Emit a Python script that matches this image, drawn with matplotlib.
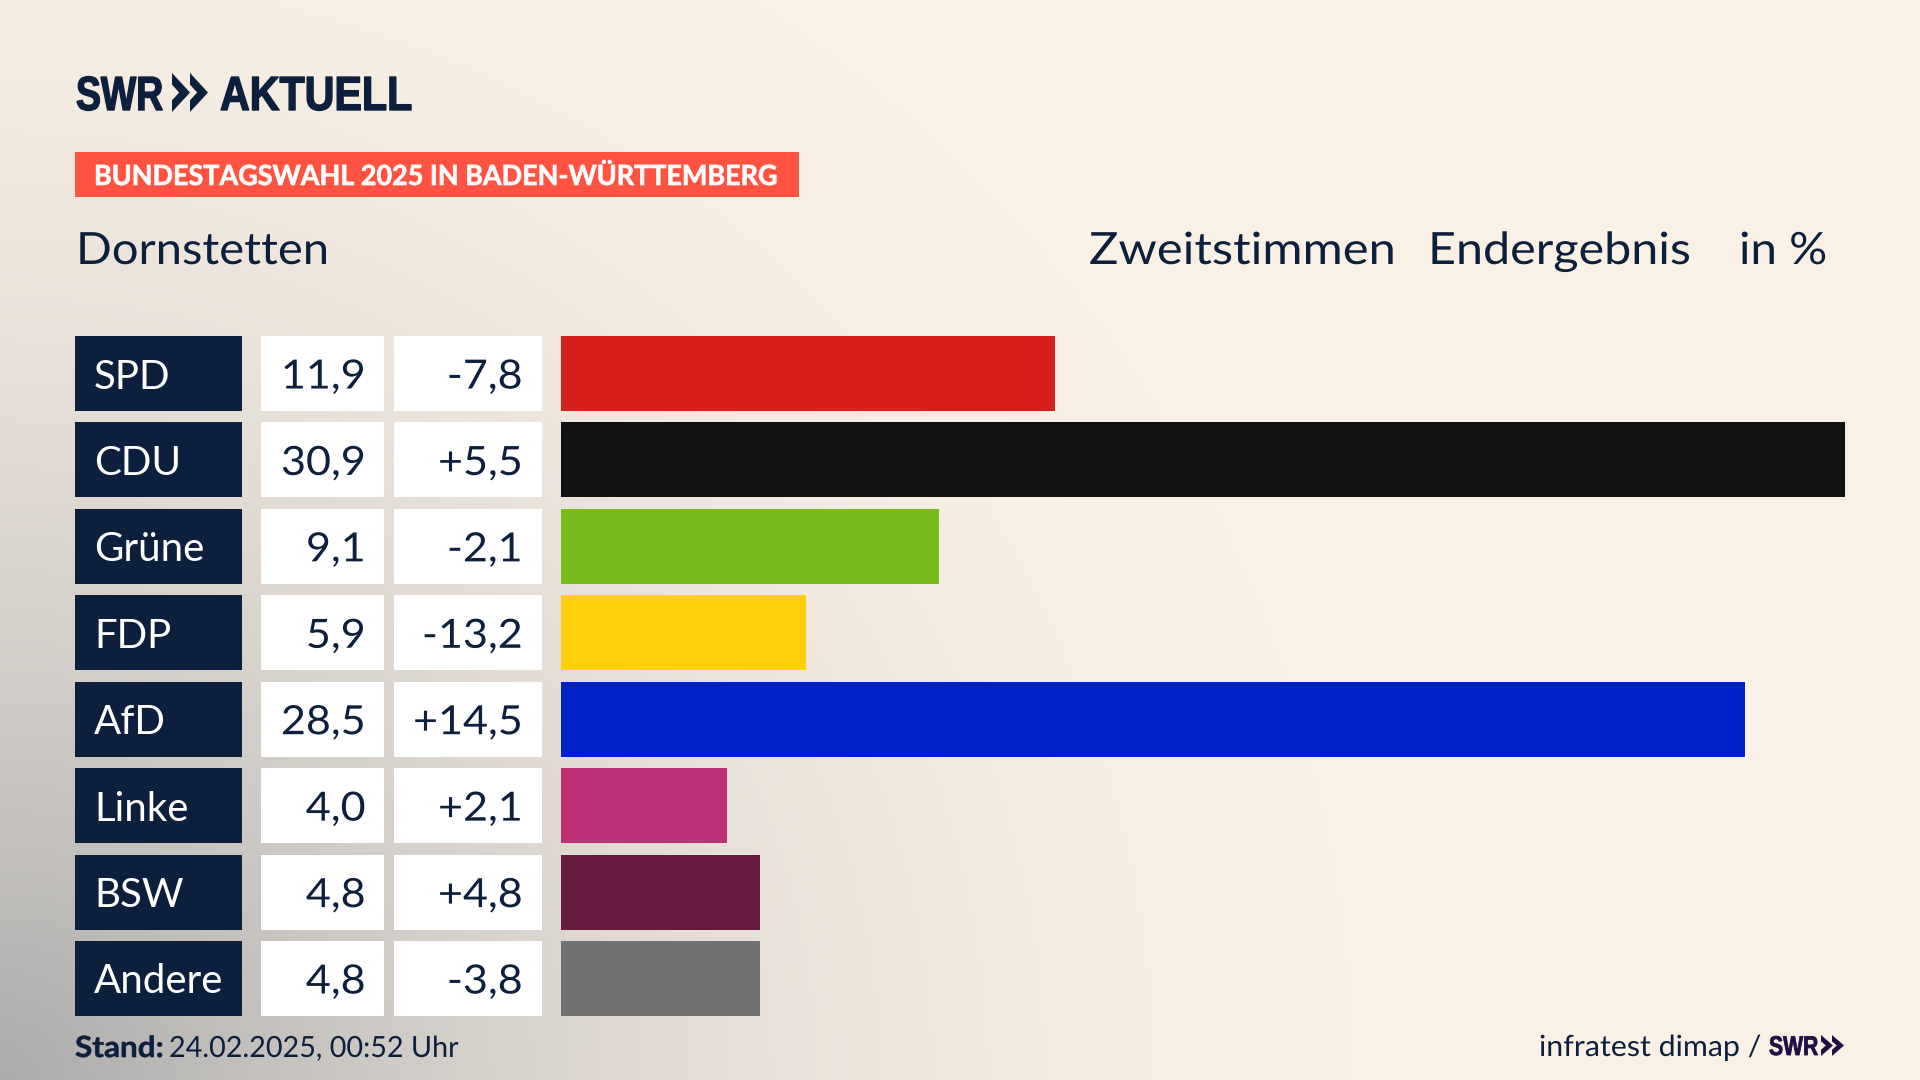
import numpy as np
import matplotlib
matplotlib.use("Agg")
import matplotlib.pyplot as plt
from matplotlib.patches import Polygon, Rectangle
from matplotlib.patheffects import AbstractPathEffect
from matplotlib.transforms import Affine2D

parties = ["SPD", "CDU", "Grüne", "FDP", "AfD", "Linke", "BSW", "Andere"]
shares = [11.9, 30.9, 9.1, 5.9, 28.5, 4.0, 4.8, 4.8]
share_labels = ["11,9", "30,9", "9,1", "5,9", "28,5", "4,0", "4,8", "4,8"]
diff_labels = ["-7,8", "+5,5", "-2,1", "-13,2", "+14,5", "+2,1", "+4,8", "-3,8"]
colors = ["#D71F1D", "#121212", "#78BC1B", "#FFCF09", "#0021C8", "#BD3075", "#661A3F", "#707173"]

W, H = 1920, 1080
NAVY = "#0C1F3D"
FONT = "Lato"
fig = plt.figure(figsize=(19.2, 10.8), dpi=100)


class Stretch(AbstractPathEffect):
    """Widen or narrow a text horizontally, around its left or right end; optional heavier outline."""
    def __init__(self, sx, right=False, bold=0.0):
        super().__init__()
        self.sx, self.right, self.bold = sx, right, bold

    def draw_path(self, renderer, gc, tpath, affine, rgbFace=None):
        x0 = tpath.get_extents().x1 if self.right else 0.0
        t = Affine2D().translate(-x0, 0).scale(self.sx, 1).translate(x0, 0)
        g = renderer.new_gc()
        g.copy_properties(gc)
        if self.bold:
            g.set_linewidth(self.bold)
            g.set_foreground(rgbFace)
        renderer.draw_path(g, tpath, t + affine, rgbFace)
        g.restore()


def axes_px(x0, x1, y0, y1, **kw):
    return fig.add_axes([x0 / W, 1 - y1 / H, (x1 - x0) / W, (y1 - y0) / H], **kw)

# decoration layer in pixel coordinates
deco = axes_px(0, W, 0, H)
deco.set_xlim(0, W); deco.set_ylim(H, 0); deco.axis("off")
yy, xx = np.mgrid[0:H:4, 0:W:4]
d = np.sqrt((xx / 1350.0) ** 2 + ((H - yy) / 1300.0) ** 2)
t = np.clip(1 - d, 0, 1) ** 1.75
base = np.array([0xFA, 0xF1, 0xE6]) / 255
grey = np.array([0xAB, 0xAB, 0xAB]) / 255
img = base[None, None, :] * (1 - t[..., None]) + grey[None, None, :] * t[..., None]
deco.imshow(img, extent=[0, W, H, 0], aspect="auto", interpolation="bilinear", zorder=0)
deco.set_xlim(0, W); deco.set_ylim(H, 0)


def chevrons(x, y0, y1, w, gap, color):
    ym = (y0 + y1) / 2
    h = y1 - y0
    for k in range(2):
        xs = x + k * gap
        deco.add_patch(Polygon([(xs, y0), (xs + w, ym), (xs, y1), (xs, y1 - 0.3 * h),
                                (xs + w * 0.4, ym), (xs, y0 + 0.3 * h)],
                               closed=True, fc=color, ec="none", zorder=3))


def label(x, y, s, sx=1.0, bold=0.0, **kw):
    opts = dict(family=FONT, color=NAVY, va="baseline", zorder=3)
    opts.update(kw)
    return deco.text(x, y, s, path_effects=[Stretch(sx, bold=bold)], **opts)


logo = dict(family="Liberation Sans", weight="bold", fontsize=34.5)
label(76, 110, "SWR", sx=0.78, bold=1.0, **logo)
chevrons(172, 73, 112, 18, 18, NAVY)
label(220, 110, "AKTUELL", sx=0.86, bold=1.0, **logo)

deco.add_patch(Rectangle((75, 152), 724, 45, fc="#FF5240", ec="none", zorder=2))
label(94, 185, "BUNDESTAGSWAHL 2025 IN BADEN-WÜRTTEMBERG", sx=0.97, bold=0.5, weight="bold",
      fontsize=20, color="white")

label(76, 264, "Dornstetten", sx=1.06, fontsize=32)
label(1089, 264, "Zweitstimmen", sx=1.10, fontsize=32)
label(1428, 264, "Endergebnis", sx=1.09, fontsize=32)
label(1739, 264, "in %", sx=1.07, fontsize=32)

label(75, 1057, "Stand:", sx=1.08, bold=0.4, weight="bold", fontsize=21)
label(169, 1057, "24.02.2025, 00:52 Uhr", sx=0.985, fontsize=21)
label(1539, 1056, "infratest dimap /", sx=1.04, fontsize=21)
label(1769, 1055, "SWR", sx=0.78, bold=0.6, family="Liberation Sans", weight="bold",
      fontsize=19.5, color="#1F0F45")
chevrons(1821, 1035, 1056, 12, 11, "#1F0F45")

# chart columns share the row scale
PITCH = 86.4
y_top, y_bot = 373.5 - PITCH / 2, 978.5 + PITCH / 2
rows = np.arange(len(parties))
BAR_H = 75 / PITCH


def column(x0, x1):
    ax = axes_px(x0, x1, y_top, y_bot)
    ax.patch.set_alpha(0); ax.axis("off")
    ax.set_ylim(len(parties) - 0.5, -0.5)
    return ax


ax_lab = column(75, 242); ax_lab.set_xlim(0, 1)
ax_lab.barh(rows, [1] * 8, height=BAR_H, color=NAVY)
ax_val = column(261, 384); ax_val.set_xlim(0, 1)
ax_val.barh(rows, [1] * 8, height=BAR_H, color="white")
ax_dif = column(394, 542); ax_dif.set_xlim(0, 1)
ax_dif.barh(rows, [1] * 8, height=BAR_H, color="white")
ax_bar = column(561, 1845); ax_bar.set_xlim(0, max(shares))
ax_bar.barh(rows, shares, height=BAR_H, color=colors)

cell = dict(family=FONT, fontsize=29, va="center_baseline")
for i in rows:
    ax_lab.text(19 / 167, i, parties[i], color="white", ha="left", **cell)
    ax_val.text(104.5 / 123, i, share_labels[i], color=NAVY, ha="right",
                path_effects=[Stretch(1.07, right=True)], **cell)
    ax_dif.text(128.5 / 148, i, diff_labels[i], color=NAVY, ha="right",
                path_effects=[Stretch(1.07, right=True)], **cell)

fig.savefig("out.png", dpi=100)
